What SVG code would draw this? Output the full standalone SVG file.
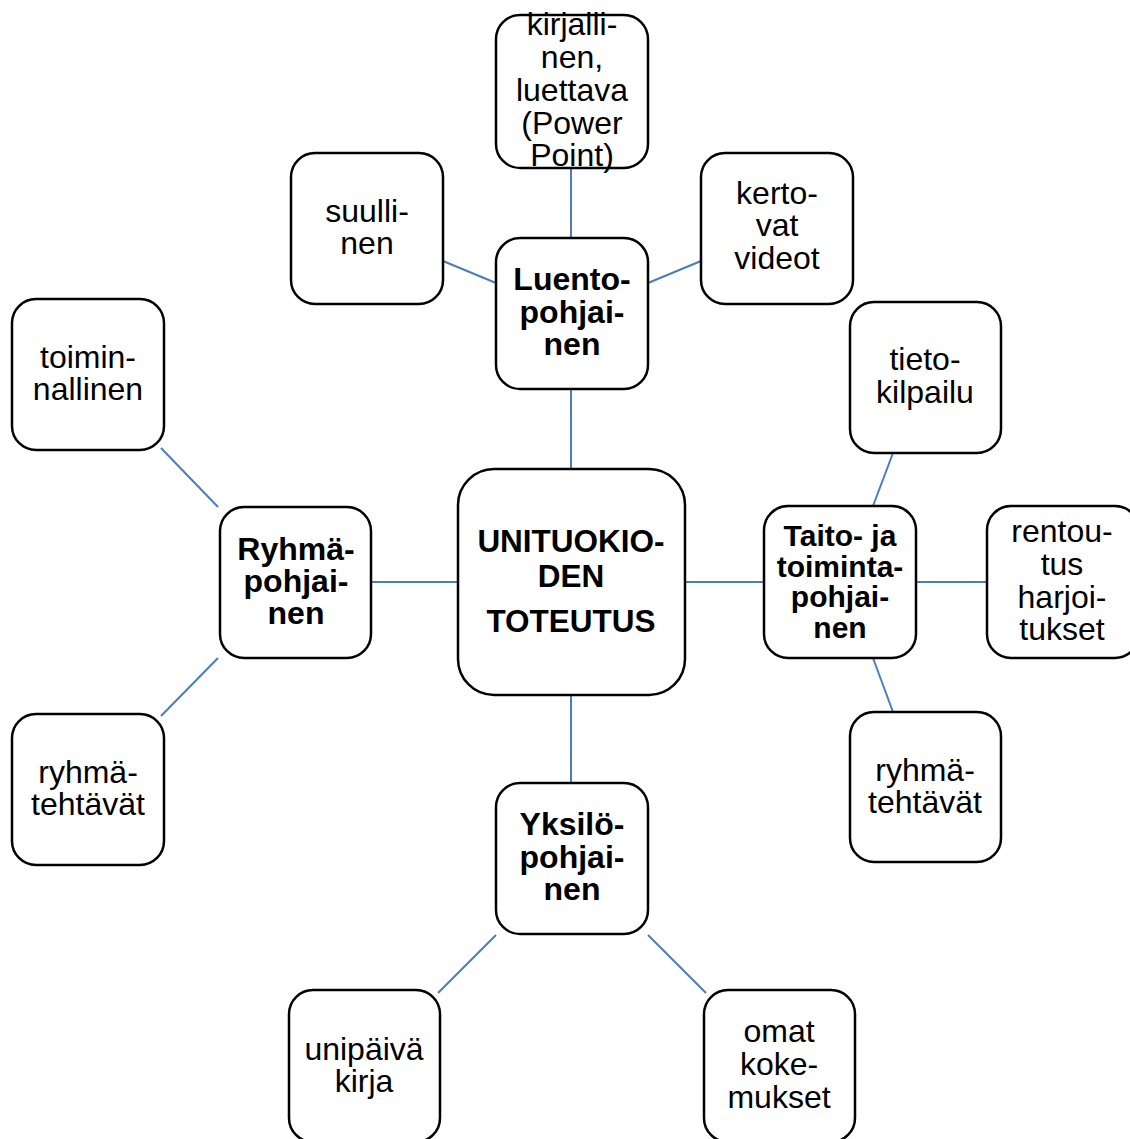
<svg xmlns="http://www.w3.org/2000/svg" width="1130" height="1139" viewBox="0 0 1130 1139">
<style>
.box{fill:#fff;stroke:#000;stroke-width:2.5}
.t{font-family:"Liberation Sans",Arial,sans-serif;font-size:32px;text-anchor:middle;fill:#000}
.b{font-weight:bold;font-size:32px}
.c{font-weight:bold;font-size:31.5px}
.s{font-weight:bold;font-size:30px}
.ln{stroke:#4a7ebb;stroke-width:2;fill:none}
</style>
<rect width="1130" height="1139" fill="#fff"/>
<g id="connectors" class="ln">
<line x1="571" y1="469" x2="571" y2="389"/>
<line x1="571" y1="695" x2="571" y2="783"/>
<line x1="458" y1="582" x2="371" y2="582"/>
<line x1="685" y1="582" x2="764" y2="582"/>
<line x1="571" y1="238" x2="571" y2="168"/>
<line x1="496" y1="283" x2="443" y2="261"/>
<line x1="648" y1="283" x2="701" y2="261"/>
<line x1="873" y1="506" x2="893" y2="453"/>
<line x1="916" y1="582" x2="987" y2="582"/>
<line x1="873" y1="658" x2="893" y2="712"/>
<line x1="218" y1="507" x2="161" y2="448"/>
<line x1="218" y1="658" x2="161" y2="716"/>
<line x1="496" y1="935" x2="438" y2="993"/>
<line x1="648" y1="935" x2="706" y2="993"/>
</g>
<g id="center">
<rect class="box" x="458" y="469" width="227" height="226" rx="36"/>
<text class="t c" x="571"><tspan x="571" y="552">UNITUOKIO-</tspan><tspan x="571" y="587">DEN</tspan><tspan x="571" y="632">TOTEUTUS</tspan></text>
</g>
<g id="luento">
<rect class="box" x="496" y="238" width="152" height="151" rx="24"/>
<text class="t b"><tspan x="572" y="290">Luento-</tspan><tspan x="572" y="323">pohjai-</tspan><tspan x="572" y="355">nen</tspan></text>
</g>
<g id="kirjallinen">
<rect class="box" x="496" y="15" width="152" height="153" rx="24"/>
<text class="t"><tspan x="572" y="35">kirjalli-</tspan><tspan x="572" y="68">nen,</tspan><tspan x="572" y="101">luettava</tspan><tspan x="572" y="134">(Power</tspan><tspan x="572" y="166">Point)</tspan></text>
</g>
<g id="suullinen">
<rect class="box" x="291" y="153" width="152" height="151" rx="24"/>
<text class="t"><tspan x="367" y="222">suulli-</tspan><tspan x="367" y="254">nen</tspan></text>
</g>
<g id="kertovat">
<rect class="box" x="701" y="153" width="152" height="151" rx="24"/>
<text class="t"><tspan x="777" y="204">kerto-</tspan><tspan x="777" y="236">vat</tspan><tspan x="777" y="269">videot</tspan></text>
</g>
<g id="tietokilpailu">
<rect class="box" x="850" y="302" width="151" height="151" rx="24"/>
<text class="t"><tspan x="925" y="370">tieto-</tspan><tspan x="925" y="403">kilpailu</tspan></text>
</g>
<g id="taito">
<rect class="box" x="764" y="506" width="152" height="152" rx="24"/>
<text class="t s"><tspan x="840" y="546">Taito- ja</tspan><tspan x="840" y="577">toiminta-</tspan><tspan x="840" y="607">pohjai-</tspan><tspan x="840" y="638">nen</tspan></text>
</g>
<g id="rentoutus">
<rect class="box" x="987" y="506" width="152" height="152" rx="24"/>
<text class="t"><tspan x="1062" y="542">rentou-</tspan><tspan x="1062" y="575">tus</tspan><tspan x="1062" y="608">harjoi-</tspan><tspan x="1062" y="640">tukset</tspan></text>
</g>
<g id="ryhmatehtavat-r">
<rect class="box" x="850" y="712" width="151" height="150" rx="24"/>
<text class="t"><tspan x="925" y="781">ryhmä-</tspan><tspan x="925" y="813">tehtävät</tspan></text>
</g>
<g id="yksilo">
<rect class="box" x="496" y="783" width="152" height="151" rx="24"/>
<text class="t b"><tspan x="572" y="835">Yksilö-</tspan><tspan x="572" y="868">pohjai-</tspan><tspan x="572" y="900">nen</tspan></text>
</g>
<g id="unipaivakirja">
<rect class="box" x="289" y="990" width="151" height="152" rx="24"/>
<text class="t"><tspan x="364" y="1060">unipäivä</tspan><tspan x="364" y="1092">kirja</tspan></text>
</g>
<g id="omatkokemukset">
<rect class="box" x="704" y="990" width="151" height="152" rx="24"/>
<text class="t"><tspan x="779" y="1042">omat</tspan><tspan x="779" y="1075">koke-</tspan><tspan x="779" y="1108">mukset</tspan></text>
</g>
<g id="ryhma">
<rect class="box" x="220" y="507" width="151" height="151" rx="24"/>
<text class="t b"><tspan x="296" y="560">Ryhmä-</tspan><tspan x="296" y="592">pohjai-</tspan><tspan x="296" y="624">nen</tspan></text>
</g>
<g id="toiminnallinen">
<rect class="box" x="12" y="299" width="152" height="151" rx="24"/>
<text class="t"><tspan x="88" y="368">toimin-</tspan><tspan x="88" y="400">nallinen</tspan></text>
</g>
<g id="ryhmatehtavat-l">
<rect class="box" x="12" y="714" width="152" height="151" rx="24"/>
<text class="t"><tspan x="88" y="783">ryhmä-</tspan><tspan x="88" y="815">tehtävät</tspan></text>
</g>
</svg>
